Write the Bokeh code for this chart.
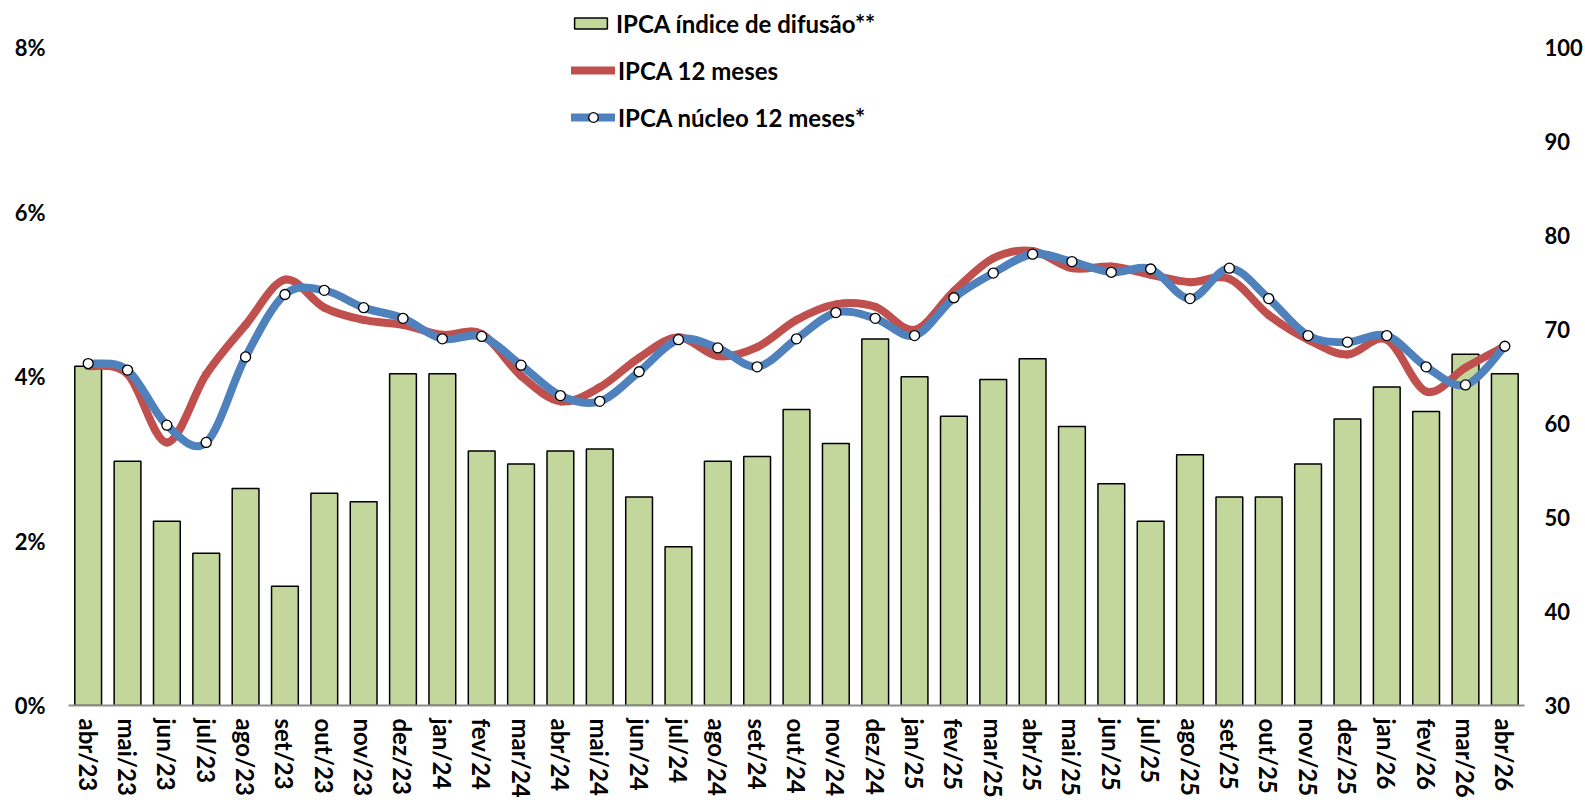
import math
from bokeh.plotting import figure
from bokeh.models import (Range1d, LinearAxis, FixedTicker, PrintfTickFormatter,
                          Legend, LegendItem)
from bokeh.embed import file_html
from bokeh.resources import INLINE

# ---------------- data ----------------
months = ["abr/23", "mai/23", "jun/23", "jul/23", "ago/23", "set/23", "out/23", "nov/23",
          "dez/23", "jan/24", "fev/24", "mar/24", "abr/24", "mai/24", "jun/24", "jul/24",
          "ago/24", "set/24", "out/24", "nov/24", "dez/24", "jan/25", "fev/25", "mar/25",
          "abr/25", "mai/25", "jun/25", "jul/25", "ago/25", "set/25", "out/25", "nov/25",
          "dez/25", "jan/26", "fev/26", "mar/26", "abr/26"]

difusao = [66.1, 56.0, 49.6, 46.2, 53.1, 42.7, 52.6, 51.7, 65.3, 65.3, 57.1, 55.7, 57.1,
           57.3, 52.2, 46.9, 56.0, 56.5, 61.5, 57.9, 69.0, 65.0, 60.8, 64.7, 66.9, 59.7,
           53.6, 49.6, 56.7, 52.2, 52.2, 55.7, 60.5, 63.9, 61.3, 67.4, 65.3]

ipca_12m = [4.13, 4.03, 3.20, 4.03, 4.63, 5.18, 4.84, 4.69, 4.63, 4.51, 4.52, 4.01, 3.70,
            3.87, 4.23, 4.48, 4.25, 4.36, 4.69, 4.88, 4.85, 4.57, 5.04, 5.44, 5.53, 5.32,
            5.34, 5.24, 5.15, 5.19, 4.75, 4.45, 4.27, 4.45, 3.82, 4.11, 4.37]

nucleo_12m = [4.16, 4.08, 3.41, 3.20, 4.24, 5.00, 5.05, 4.84, 4.71, 4.46, 4.49, 4.14, 3.77,
              3.70, 4.06, 4.45, 4.35, 4.12, 4.46, 4.78, 4.71, 4.50, 4.96, 5.26, 5.49, 5.40,
              5.27, 5.31, 4.95, 5.32, 4.95, 4.50, 4.42, 4.50, 4.12, 3.90, 4.37]

left_ticks = [0, 2, 4, 6, 8]
right_ticks = [30, 40, 50, 60, 70, 80, 90, 100]

label_bar = "IPCA índice de difusão**"
label_red = "IPCA 12 meses"
label_blue = "IPCA núcleo 12 meses*"

# ---------------- styling ----------------
GREEN = "#C3D69B"
RED = "#C0504D"
BLUE = "#4F81BD"
FONT = "Lato"

W, H = 1585, 800
BORDER_L, BORDER_R, BORDER_B = 68, 60, 93
FRAME_H = H - BORDER_B            # frame top is at the canvas top
TOP_TICK_PX = 47.5                # canvas y of the top tick (8% / 100)
px_per_pct = (FRAME_H - TOP_TICK_PX) / (left_ticks[-1] - left_ticks[0])
left_end = left_ticks[0] + FRAME_H / px_per_pct
px_per_unit_r = (FRAME_H - TOP_TICK_PX) / (right_ticks[-1] - right_ticks[0])
right_end = right_ticks[0] + FRAME_H / px_per_unit_r

idx = list(range(len(months)))

p = figure(width=W, height=H, output_backend="svg", toolbar_location=None,
           x_range=Range1d(-0.5, len(months) - 0.5),
           y_range=Range1d(left_ticks[0], left_end),
           min_border_left=BORDER_L, min_border_right=BORDER_R,
           min_border_top=0, min_border_bottom=BORDER_B)
p.outline_line_color = None
p.xgrid.visible = False
p.ygrid.visible = False
p.background_fill_color = "white"
p.border_fill_color = "white"

p.extra_y_ranges = {"right": Range1d(right_ticks[0], right_end)}


def style_axis(ax, size, standoff):
    ax.major_tick_line_color = None
    ax.minor_tick_line_color = None
    ax.major_tick_out = 0
    ax.major_tick_in = 0
    ax.minor_tick_out = 0
    ax.minor_tick_in = 0
    ax.major_label_text_font = FONT
    ax.major_label_text_font_style = "bold"
    ax.major_label_text_font_size = size
    ax.major_label_text_color = "black"
    ax.major_label_standoff = standoff


# x axis
xa = p.xaxis[0]
xa.ticker = FixedTicker(ticks=idx)
xa.major_label_overrides = {i: m for i, m in zip(idx, months)}
xa.major_label_orientation = -math.pi / 2
style_axis(xa, "24px", 13)
xa.axis_line_color = "#8C8C8C"
xa.axis_line_width = 2

# left axis
ya = p.yaxis[0]
ya.ticker = FixedTicker(ticks=left_ticks)
ya.formatter = PrintfTickFormatter(format="%d%%")
style_axis(ya, "22px", 23)
ya.axis_line_color = None

# right axis
ra = LinearAxis(y_range_name="right", ticker=FixedTicker(ticks=right_ticks))
style_axis(ra, "22px", 20)
ra.axis_line_color = None
p.add_layout(ra, "right")

# bars
bars = p.vbar(x=idx, top=difusao, bottom=right_ticks[0], width=0.68, y_range_name="right",
              fill_color=GREEN, line_color="black", line_width=1.5)


def smooth_segments(xs, ys):
    """Bezier control points (Catmull-Rom style, like a spreadsheet's smoothed line)."""
    n = len(xs)
    seg = dict(x0=[], y0=[], x1=[], y1=[], cx0=[], cy0=[], cx1=[], cy1=[])
    for i in range(n - 1):
        i0 = max(i - 1, 0)
        i3 = min(i + 2, n - 1)
        seg["x0"].append(xs[i]); seg["y0"].append(ys[i])
        seg["x1"].append(xs[i + 1]); seg["y1"].append(ys[i + 1])
        seg["cx0"].append(xs[i] + (xs[i + 1] - xs[i0]) / 6.0)
        seg["cy0"].append(ys[i] + (ys[i + 1] - ys[i0]) / 6.0)
        seg["cx1"].append(xs[i + 1] - (xs[i3] - xs[i]) / 6.0)
        seg["cy1"].append(ys[i + 1] - (ys[i3] - ys[i]) / 6.0)
    return seg


LW = 8
red_r = p.bezier(**smooth_segments(idx, ipca_12m), line_color=RED, line_width=LW,
                 line_cap="round")
blue_r = p.bezier(**smooth_segments(idx, nucleo_12m), line_color=BLUE, line_width=LW,
                  line_cap="round")
markers = p.scatter(x=idx, y=nucleo_12m, marker="circle", size=10, fill_color="white",
                    line_color="black", line_width=1.3)

leg_common = dict(border_line_color=None, background_fill_alpha=0, padding=0, margin=0,
                  label_text_font=FONT, label_text_font_style="bold",
                  label_text_font_size="24px", label_text_color="black",
                  label_height=30)

leg_a = Legend(items=[LegendItem(label=label_bar, renderers=[bars])],
               location=(502, FRAME_H - 40), glyph_width=41, glyph_height=14,
               label_standoff=5, **leg_common)
leg_b = Legend(items=[LegendItem(label=label_red, renderers=[red_r]),
                      LegendItem(label=label_blue, renderers=[blue_r, markers])],
               location=(503, FRAME_H - 134), glyph_width=44, glyph_height=24,
               label_standoff=3, spacing=17, **leg_common)
p.add_layout(leg_a)
p.add_layout(leg_b)

open("out.html", "w").write(file_html(p, INLINE))
